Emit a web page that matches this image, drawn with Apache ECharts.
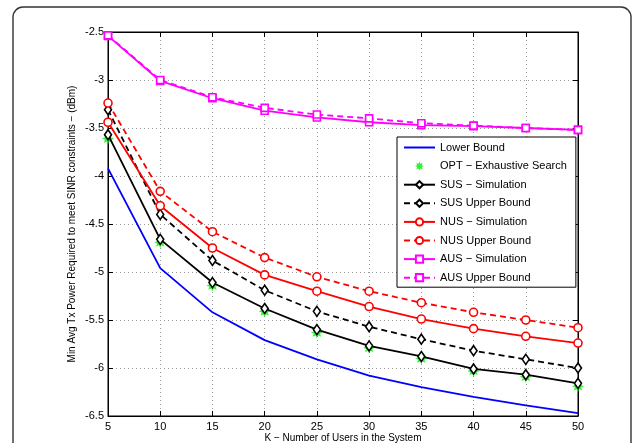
<!DOCTYPE html>
<html>
<head>
<meta charset="utf-8">
<title>Min Avg Tx Power vs K</title>
<script src="https://cdn.jsdelivr.net/npm/echarts@6/dist/echarts.min.js"></script>
<style>
  html, body { margin: 0; padding: 0; background: #fff; }
  #chart { width: 634px; height: 443px; }
</style>
</head>
<body>
<div id="chart"></div>
<script>
// K values (x axis)
var kUsers = [5, 10, 15, 20, 25, 30, 35, 40, 45, 50];

// series values (dBm)
var lowerBound = [-3.92, -4.96, -5.42, -5.71, -5.91, -6.08, -6.20, -6.30, -6.39, -6.47];
var optSearch  = [-3.61, -4.69, -5.14, -5.41, -5.63, -5.79, -5.90, -6.03, -6.09, -6.19];
var susSim     = [-3.57, -4.66, -5.11, -5.38, -5.60, -5.77, -5.88, -6.01, -6.07, -6.16];
var susUpper   = [-3.31, -4.40, -4.88, -5.19, -5.41, -5.57, -5.70, -5.82, -5.91, -6.00];
var nusSim     = [-3.44, -4.31, -4.75, -5.03, -5.20, -5.36, -5.49, -5.59, -5.67, -5.74];
var nusUpper   = [-3.24, -4.16, -4.58, -4.85, -5.05, -5.20, -5.32, -5.42, -5.50, -5.58];
var ausSim     = [-2.54, -3.01, -3.19, -3.32, -3.39, -3.44, -3.47, -3.48, -3.50, -3.52];
var ausUpper   = [-2.535, -3.00, -3.18, -3.29, -3.36, -3.40, -3.45, -3.475, -3.50, -3.52];

var legendNames = ['Lower Bound', 'OPT − Exhaustive Search', 'SUS − Simulation', 'SUS Upper Bound',
                   'NUS − Simulation', 'NUS Upper Bound', 'AUS − Simulation', 'AUS Upper Bound'];

function pairs(ys) {
  return kUsers.map(function (k, i) { return [k, ys[i]]; });
}

// asterisk-like marker shape (16 point star)
function starPath() {
  var pts = [];
  for (var i = 0; i < 16; i++) {
    var r = (i % 2 === 0) ? 10 : 5.5;
    var a = Math.PI * i / 8;
    pts.push((10 + r * Math.sin(a)).toFixed(2) + ' ' + (10 - r * Math.cos(a)).toFixed(2));
  }
  return 'path://M' + pts.join(' L') + ' Z';
}

var font = '"Liberation Sans", Arial, sans-serif';
var dash = [6, 4];

function lineSeries(name, ys, color, dashed, symbol, size) {
  return {
    name: name,
    type: 'line',
    data: pairs(ys),
    symbol: symbol || 'none',
    symbolSize: size || 0,
    showSymbol: !!symbol,
    lineStyle: { color: color, width: 1.8, type: dashed ? dash : 'solid' },
    itemStyle: { color: '#fff', borderColor: color, borderWidth: 1.6 },
    emphasis: { disabled: true },
    animation: false
  };
}

var legendData = legendNames.map(function (n, i) {
  // the plain line has no marker in the key
  return i === 0 ? { name: n, itemStyle: { opacity: 0 } } : { name: n };
});

var myChart = echarts.init(document.getElementById('chart'));
var option = {
  backgroundColor: '#fff',
  animation: false,
  textStyle: { fontFamily: font },
  graphic: [{
    type: 'rect',
    shape: { x: 13, y: 7, width: 618, height: 500, r: 10 },
    style: { fill: 'none', stroke: '#333', lineWidth: 1.4 },
    silent: true
  }],
  grid: {
    left: 108, right: 56, top: 32, bottom: 27,
    outerBoundsMode: 'none',
    containLabel: false,
    show: true, borderColor: '#000', borderWidth: 1
  },
  legend: {
    orient: 'vertical',
    left: 397, top: 137,
    backgroundColor: '#fff',
    borderColor: '#000',
    borderWidth: 1,
    padding: [5, 9, 4, 6],
    itemWidth: 31,
    itemHeight: 9,
    itemGap: 7.6,
    textStyle: { fontFamily: font, fontSize: 11, color: '#000' },
    data: legendData
  },
  xAxis: [{
    type: 'value', min: 5, max: 50, interval: 5,
    name: 'K − Number of Users in the System',
    nameLocation: 'middle', nameGap: 17, nameMoveOverlap: false,
    nameTextStyle: { fontFamily: font, fontSize: 10, color: '#000' },
    axisLine: { lineStyle: { color: '#000', width: 1 } },
    axisTick: { inside: true, length: 5, lineStyle: { color: '#000' } },
    axisLabel: { fontFamily: font, fontSize: 11, color: '#000', margin: 5 },
    splitLine: { show: true, lineStyle: { color: '#999', type: [1, 3] } }
  }, {
    type: 'value', min: 5, max: 50, interval: 5, position: 'top',
    axisLine: { lineStyle: { color: '#000' } },
    axisTick: { inside: true, length: 5, lineStyle: { color: '#000' } },
    axisLabel: { show: false },
    splitLine: { show: false }
  }],
  yAxis: [{
    type: 'value', min: -6.5, max: -2.5, interval: 0.5,
    name: 'Min Avg Tx Power Required to meet SINR constraints − (dBm)',
    nameLocation: 'middle', nameGap: 31, nameRotate: 90, nameMoveOverlap: false,
    nameTextStyle: { fontFamily: font, fontSize: 10, color: '#000' },
    axisLine: { show: true, lineStyle: { color: '#000', width: 1 } },
    axisTick: { show: true, inside: true, length: 5, lineStyle: { color: '#000' } },
    axisLabel: { fontFamily: font, fontSize: 11, color: '#000', margin: 4 },
    splitLine: { show: true, lineStyle: { color: '#999', type: [1, 3] } }
  }, {
    type: 'value', min: -6.5, max: -2.5, interval: 0.5, position: 'right',
    axisLine: { show: true, lineStyle: { color: '#000' } },
    axisTick: { show: true, inside: true, length: 5, lineStyle: { color: '#000' } },
    axisLabel: { show: false },
    splitLine: { show: false }
  }],
  series: [
    lineSeries(legendNames[0], lowerBound, '#0000ff', false),
    {
      name: legendNames[1],
      type: 'scatter',
      data: pairs(optSearch),
      symbol: starPath(),
      symbolSize: 12,
      itemStyle: { color: '#00ee00' },
      emphasis: { disabled: true },
      animation: false
    },
    lineSeries(legendNames[2], susSim, '#000', false, 'diamond', [7, 10]),
    lineSeries(legendNames[3], susUpper, '#000', true, 'diamond', [7, 10]),
    lineSeries(legendNames[4], nusSim, '#ff0000', false, 'circle', 8),
    lineSeries(legendNames[5], nusUpper, '#ff0000', true, 'circle', 8),
    lineSeries(legendNames[6], ausSim, '#ff00ff', false, 'rect', 7),
    lineSeries(legendNames[7], ausUpper, '#ff00ff', true, 'rect', 7)
  ]
};
myChart.setOption(option);
</script>
</body>
</html>
